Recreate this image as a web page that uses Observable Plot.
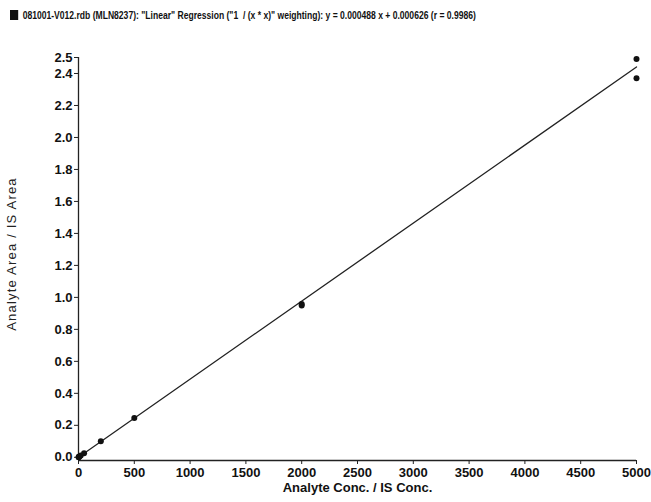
<!DOCTYPE html>
<html>
<head>
<meta charset="utf-8">
<script src="https://cdn.jsdelivr.net/npm/d3@7"></script>
<script src="https://cdn.jsdelivr.net/npm/@observablehq/plot@0.6"></script>
<style>
  body { margin: 0; background: #fff; }
  #title { height: 30px; padding-left: 10px; line-height: 28px; white-space: nowrap; }
  #title .txt { display: inline-block; font: bold 11.5px "Liberation Sans", Arial, sans-serif; color: #111; transform: scaleX(0.745); transform-origin: left center; }
  #title .sq { display: inline-block; width: 11px; height: 10px; background: #111; vertical-align: -1px; margin-right: 6px; }
</style>
</head>
<body>
<div id="title"><span class="txt"><span class="sq"></span>081001-V012.rdb (MLN8237): "Linear" Regression ("1 &nbsp;/ (x * x)" weighting): y = 0.000488 x + 0.000626 (r = 0.9986)</span></div>
<div id="chart"></div>
<script>
// Calibration standards (concentration ratio, area ratio)
const conc  = [1, 2, 5, 10, 20, 50, 200, 500, 2000, 2000, 5000, 5000];
const ratio = [0.001, 0.002, 0.004, 0.006, 0.012, 0.026, 0.100, 0.246, 0.958, 0.950, 2.490, 2.370];
// Regression line endpoints: y = 0.000488 x + 0.000626
const fitX = [0, 5000];
const fitY = [0.000626, 2.440626];
const xTicks = [0, 500, 1000, 1500, 2000, 2500, 3000, 3500, 4000, 4500, 5000];
const yTicks = [0, 0.2, 0.4, 0.6, 0.8, 1.0, 1.2, 1.4, 1.6, 1.8, 2.0, 2.2, 2.4, 2.5];
const xLabel = "Analyte Conc. / IS Conc.";
const yLabel = "Analyte Area / IS Area";

const points = conc.map((c, i) => ({x: c, y: ratio[i]}));
const fit = fitX.map((x, i) => ({x, y: fitY[i]}));
const yMin = -0.02;

const plot = Plot.plot({
  width: 651,
  height: 472,
  marginLeft: 78,
  marginRight: 15,
  marginTop: 27,
  marginBottom: 42,
  style: {fontFamily: "'Liberation Sans', Arial, sans-serif", fontSize: "13px", fontWeight: "bold", color: "#111", background: "#fff"},
  x: {domain: [0, 5000]},
  y: {domain: [yMin, 2.5]},
  marks: [
    Plot.ruleX([0], {y1: yMin, y2: 2.5, stroke: "#222", strokeWidth: 1.3}),
    Plot.ruleY([yMin], {stroke: "#222", strokeWidth: 1.3}),
    Plot.axisY({ticks: yTicks, tickSize: 4, tickPadding: 2, tickFormat: d3.format(".1f"), label: null, stroke: "#222"}),
    Plot.axisX({ticks: xTicks, tickSize: 4, tickPadding: 3, tickFormat: d => String(d), label: null, stroke: "#222"}),
    Plot.line(fit, {x: "x", y: "y", stroke: "#222", strokeWidth: 1.3}),
    Plot.dot(points, {x: "x", y: "y", r: 3, fill: "#111", stroke: "none"}),
    Plot.text([xLabel], {frameAnchor: "bottom", dy: 31, fontSize: 13, fontWeight: "bold", fill: "#111"}),
    Plot.text([yLabel], {frameAnchor: "left", textAnchor: "middle", dx: -67, dy: -5, rotate: -90, fontSize: 13, fontWeight: "normal", fill: "#222"})
  ]
});
// letter-spacing for y label
d3.select(plot).selectAll("text").filter(function() { return this.textContent === yLabel; }).style("letter-spacing", "1.2px");
document.getElementById("chart").appendChild(plot);
</script>
</body>
</html>
